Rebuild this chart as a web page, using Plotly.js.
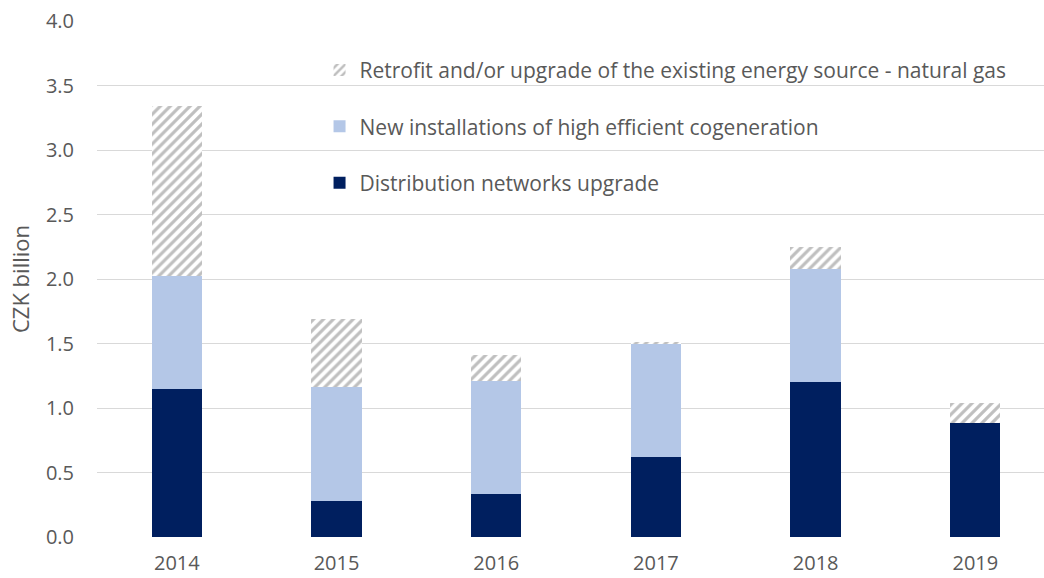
<!DOCTYPE html>
<html>
<head>
<meta charset="utf-8">
<script src="https://cdn.plot.ly/plotly-3.0.1.min.js"></script>
<style>html,body{margin:0;padding:0;background:#fff;}#chart{width:1044px;height:578px;}</style>
</head>
<body>
<div id="chart"></div>
<script>
const years = ["2014", "2015", "2016", "2017", "2018", "2019"];
const distribution = [1.15, 0.28, 0.33, 0.62, 1.20, 0.88];
const cogeneration = [0.87, 0.88, 0.88, 0.88, 0.88, 0.00];
const retrofit = [1.32, 0.53, 0.20, 0.01, 0.17, 0.16];
const names = [
  "Distribution networks upgrade",
  "New installations of high efficient cogeneration",
  "Retrofit and/or upgrade of the existing energy source - natural gas"
];

const font = "Open Sans, Liberation Sans, sans-serif";
const grey = "#595959";

const traces = [
  {type: "bar", x: years, y: distribution, name: names[0], legendgroup: "a", legendrank: 3,
   marker: {color: "#001F5F"}},
  {type: "bar", x: years, y: cogeneration, name: names[1], legendgroup: "b", legendrank: 2,
   marker: {color: "#B4C7E7"}},
  {type: "bar", x: years, y: retrofit, name: names[2], legendgroup: "c", legendrank: 1,
   marker: {color: "#ffffff", pattern: {shape: "/", fgcolor: "#BFBFBF", bgcolor: "#ffffff", size: 7, solidity: 0.45, fillmode: "replace"}}}
];

const layout = {
  width: 1044, height: 578,
  margin: {l: 97, r: 0, t: 21, b: 41},
  barmode: "stack",
  bargap: 0.685,
  paper_bgcolor: "#ffffff",
  plot_bgcolor: "#ffffff",
  font: {family: font, size: 20, color: grey},
  xaxis: {
    type: "category",
    range: [-0.5, 5.43],
    showgrid: false, zeroline: false, showline: false,
    ticks: "", ticklabelstandoff: 12,
    tickfont: {family: font, size: 20, color: grey}
  },
  yaxis: {
    range: [0, 4.0],
    dtick: 0.5, tickformat: ".1f",
    showgrid: true, gridcolor: "#D9D9D9", gridwidth: 1,
    zeroline: false, showline: false, ticks: "",
    ticklabelstandoff: 22,
    tickfont: {family: font, size: 20, color: grey},
    title: {text: "CZK billion", font: {family: font, size: 22, color: grey}, standoff: 10}
  },
  showlegend: true,
  legend: {
    x: 0.235, y: 0.944, xanchor: "left", yanchor: "top",
    traceorder: "grouped",
    tracegroupgap: 26,
    bgcolor: "rgba(0,0,0,0)",
    font: {family: font, size: 21, color: grey},
    itemwidth: 30
  }
};

Plotly.newPlot("chart", traces, layout, {displayModeBar: false, staticPlot: true});
</script>
</body>
</html>
